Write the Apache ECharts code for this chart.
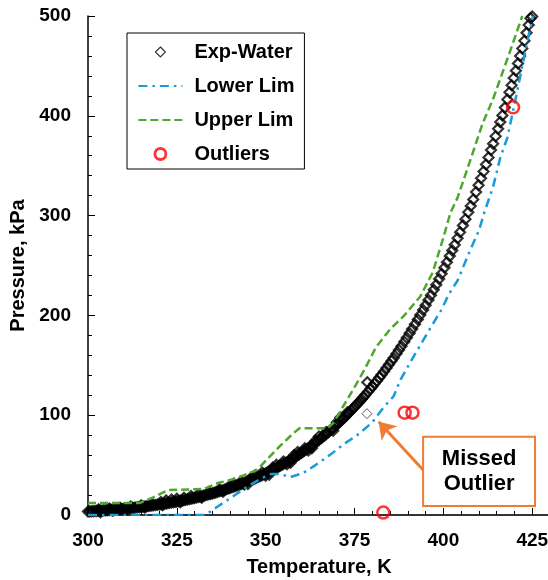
<!DOCTYPE html>
<html><head><meta charset="utf-8">
<script src="https://cdn.jsdelivr.net/npm/echarts@6/dist/echarts.min.js"></script>
<style>html,body{margin:0;padding:0;background:#fff}#c{width:548px;height:580px}</style>
</head><body><div id="c"></div>
<script>
// ---- Data (Temperature K, Pressure kPa) ----
const expWater = [
[299.6,3.46],[300,3.54],[300.5,3.64],[301,3.75],[301.5,3.86],[302,3.97],[302.5,4.09],[303,4.21],[303.5,4.33],[304,4.46],
[304.5,4.59],[305,4.72],[305.5,4.85],[306,4.99],[306.5,5.13],[307,5.28],[307.5,5.43],[308,5.58],[308.5,5.74],[309,5.90],
[309.5,6.06],[310,6.23],[310.5,6.40],[311,6.57],[311.5,6.75],[312,6.93],[312.5,7.12],[313,7.31],[313.5,7.51],[314,7.72],
[314.5,7.93],[315,8.14],[315.5,8.35],[316,8.57],[316.5,8.80],[317,9.03],[317.5,9.27],[318,9.51],[318.5,9.76],[319,10.02],
[319.5,10.28],[320,10.55],[320.5,10.82],[321,11.09],[321.5,11.37],[322,11.65],[322.5,11.95],[323,12.25],[323.5,12.56],[324,12.87],
[324.5,13.20],[325,13.53],[325.5,13.86],[326,14.20],[326.5,14.55],[327,14.90],[327.5,15.26],[328,15.63],[328.5,16.01],[329,16.40],
[329.5,16.80],[330,17.21],[330.5,17.62],[331,18.03],[331.5,18.46],[332,18.89],[332.5,19.34],[333,19.79],[333.5,20.26],[334,20.73],
[334.5,21.22],[335,21.72],[335.5,22.22],[336,22.72],[336.5,23.24],[337,23.76],[337.5,24.30],[338,24.85],[338.5,25.42],[339,25.99],
[339.5,26.59],[340,27.19],[340.5,27.79],[341,28.39],[341.5,29.02],[342,29.65],[342.5,30.31],[343,30.97],[343.5,31.65],[344,32.34],
[344.5,33.06],[345,33.78],[345.5,34.50],[346,35.23],[346.5,35.98],[347,36.74],[347.5,37.52],[348,38.31],[348.5,39.13],[349,39.96],
[349.5,40.82],[350,41.68],[350.5,42.54],[351,43.41],[351.5,44.31],[352,45.21],[352.5,46.15],[353,47.09],[353.5,48.06],[354,49.04],
[354.5,50.06],[355,51.08],[355.5,52.10],[356,53.13],[356.5,54.19],[357,55.26],[357.5,56.37],[358,57.48],[358.5,58.63],[359,59.79],
[359.5,60.99],[360,62.19],[360.5,63.40],[361,64.61],[361.5,65.86],[362,67.12],[362.5,68.42],[363,69.73],[363.5,71.09],[364,72.45],
[364.5,73.85],[365,75.26],[365.5,76.68],[366,78.10],[366.5,79.57],[367,81.04],[367.5,82.57],[368,84.10],[368.5,85.68],[369,87.27],
[369.5,88.90],[370,90.54],[370.5,92.19],[371,93.85],[371.5,95.56],[372,97.28],[372.5,99.05],[373,100.83],[373.5,102.67],[374,104.51],
[374.5,106.4],[375,108.3],
[303,5.6],[306,6.4],[309,7.3],[312,8.4],[315,9.6],[318,11.2],[320.5,13.0],[322,14.6],[323.5,15.5],[325,16.2],
[327,17.3],[329,19.0],[331,20.5],[334,23.0],[337,25.8],[340,29.5],[343,33.2],[346,37.5],[349,42.5],[352,47.5],
[355,53.5],[358,60.0],[361,66.8],[364,74.5],[367,83.2],[370,92.8],[373,103.0],[303.5,2.9],[307,4.4],[311,5.8],
[316,7.6],[321,9.8],[326,12.8],[332,17.3],[338,23.3],[344,30.5],[350,39.5],[356,50.8],[362,64.6],
[341,31.2],[347,39.8],[353,50.2],[359,63.0],[365,78.6],[371,97.6],[345,31.0],[351,40.5],[357,52.4],[363,67.0],[369,84.5],
[375.5,110.2],[376,112.1],[376.5,114.1],[377,116.1],[377.5,118.1],[378,120.2],[378.8,123.5],[379.5,126.6],[380,128.8],[380.6,131.5],
[381.3,134.5],[382,137.7],[382.6,140.5],[383.3,143.9],[384,147.3],[384.7,150.8],[385.4,154.3],[386,157.4],[386.8,161.5],[387.5,165.3],
[388.2,169.1],[389,173.6],[389.7,177.6],[390.5,182.2],[391.2,186.3],[392,191.1],[392.8,196.0],[393.5,200.4],[394.3,205.5],[395,210.1],
[395.8,215.5],[396.5,220.2],[397.3,225.7],[398,230.7],[398.8,236.5],[399.5,241.8],[400.3,247.8],[401,253.2],[401.8,259.4],[402.5,265.1],
[403.2,270.7],[404,277.4],[404.7,283.3],[405.5,290.2],[406.2,296.3],[407,303.3],[407.7,309.6],[408.4,316.2],[409.2,323.7],[409.9,330.5],
[410.6,337.4],[411.3,344.2],[412,351.2],[412.7,358.3],[413.4,365.7],[414,372.0],[414.7,379.5],[415.4,387.1],[416,393.7],[416.6,400.4],
[417.3,408.2],[418,416.3],[418.6,423.5],[419.2,430.6],[419.8,437.9],[420.4,445.2],[421,452.5],[421.6,460.0],[422.2,467.5],[422.8,475.2],
[423.4,483.1],[424,491.0],[424.5,497.7],[425,499.5],
[378.6,133.0]
];
const missedOutlier = [378.5, 101.5];
const lowerLim = [
[300,0],[333,0],[336.3,8],[340.5,18],[344.2,27],[348.4,36],[351.5,41],[354,41],[357,38],[360.5,42],
[364,50],[368,60],[372.4,72],[376.5,82],[380,93],[383,107],[386,119],[388,136],[391,155],[394.8,178],
[397.3,193],[399.5,206],[401.5,221],[404,235],[407.5,265],[410,285],[411.5,303],[414,329],[416,358],[418,378],
[420.5,420],[423.6,474],[425.2,500]
];
const upperLim = [
[300,12],[314.5,12],[318,17],[322.5,25],[332.5,26],[336.5,32],[340,35],[344,40],[347.5,45],[351,58],
[354,69],[357.5,81],[359.5,87],[367.5,87],[369,92],[372,110],[375,128],[378,147],[381,168],[385,186],
[389,200],[393.5,219],[397,243],[400,278],[402,303],[404,318],[408,360],[411,392],[414,417],[419,467],
[422.2,500]
];
const outliers = [[383.1,2.5],[389.1,102.5],[391.3,102.5],[419.6,408.5]];
const seriesNames = ['Exp-Water','Lower Lim','Upper Lim','Outliers'];
const xRange = {min:300, max:430, interval:25};
const yRange = {min:0, max:500, interval:100};
const axisTitles = {x:'Temperature, K', y:'Pressure, kPa'};
const annotationText = 'Missed\nOutlier';
const arrowFrom = [394.3, 45];
const arrowTo = [381.8, 93.5];
const annotationBox = {left:394.3, right:425.8, top:78.3, bottom:9};

const FONT = '"Liberation Sans", Arial, sans-serif';
const chart = echarts.init(document.getElementById('c'), null, {renderer:'canvas'});
const axisCommon = {
  axisLine:{show:true, onZero:false, lineStyle:{color:'#000', width:1.5}},
  axisTick:{show:true, inside:true, length:7, lineStyle:{color:'#000', width:1}},
  minorTick:{show:true, splitNumber:5, length:4, lineStyle:{color:'#000', width:1}},
  splitLine:{show:false}, minorSplitLine:{show:false}
};
const expData = expWater.map(v => v).concat([{value:missedOutlier, itemStyle:{borderWidth:1, borderColor:'#333'}}]);
// legend icons: thin invisible end segments keep the icon box 44 wide so the symbol is not stretched
const diamondIcon = 'path://M0,5L0.01,5M22,0L27,5L22,10L17,5ZM43.99,5L44,5';
const circleIcon = 'path://M0,6L0.01,6M16.5,6A5.5,5.5,0,1,1,27.5,6A5.5,5.5,0,1,1,16.5,6ZM43.99,6L44,6';
chart.setOption({
  animation:false,
  backgroundColor:'#fff',
  grid:{left:88, top:16, right:-2, bottom:65, containLabel:false, outerBoundsMode:'none'},
  legend:{
    data:[
      {name:seriesNames[0], icon:diamondIcon, itemStyle:{borderWidth:1.2, borderColor:'#000', color:'rgba(255,255,255,0)'}},
      {name:seriesNames[1], itemStyle:{opacity:0}},
      {name:seriesNames[2], itemStyle:{opacity:0}},
      {name:seriesNames[3], icon:circleIcon, itemStyle:{borderWidth:2.8, borderColor:'#ff0000', color:'rgba(255,255,255,0)'}}
    ],
    orient:'vertical', left:127, top:33, symbolKeepAspect:true,
    padding:[9,10,5,10], itemGap:14, itemWidth:44, itemHeight:11,
    borderColor:'#000', borderWidth:1, backgroundColor:'#fff',
    textStyle:{fontFamily:FONT, fontWeight:'bold', fontSize:20, color:'#000', padding:[0,0,0,7]}
  },
  xAxis:[Object.assign({
    type:'value', min:xRange.min, max:xRange.max, interval:xRange.interval,
    name:axisTitles.x, nameLocation:'middle', nameGap:42,
    nameTextStyle:{fontFamily:FONT, fontWeight:'bold', fontSize:20, color:'#000'},
    axisLabel:{fontFamily:FONT, fontWeight:'bold', fontSize:19, color:'#000', margin:16, showMaxLabel:false}
  }, axisCommon), {
    type:'value', position:'top', min:xRange.min, max:xRange.max, interval:xRange.interval,
    axisLine:{show:true, lineStyle:{color:'#333', width:1.5}}, axisTick:{show:false}, axisLabel:{show:false}, splitLine:{show:false}
  }],
  yAxis:Object.assign({
    type:'value', min:yRange.min, max:yRange.max, interval:yRange.interval,
    name:axisTitles.y, nameLocation:'middle', nameGap:51,
    nameTextStyle:{fontFamily:FONT, fontWeight:'bold', fontSize:20, color:'#000'},
    axisLabel:{fontFamily:FONT, fontWeight:'bold', fontSize:19, color:'#000', margin:17}
  }, axisCommon),
  series:[
    {name:seriesNames[0], type:'scatter', data:expData, symbol:'diamond', symbolSize:10,
     itemStyle:{color:'rgba(255,255,255,0)', borderColor:'#000', borderWidth:2.2}, z:2},
    {name:seriesNames[1], type:'line', data:lowerLim, symbol:'none', showSymbol:false,
     lineStyle:{color:'#1a9ad9', width:2.5, type:[9,5,2.5,5]}, itemStyle:{color:'#1a9ad9'}, z:3},
    {name:seriesNames[2], type:'line', data:upperLim, symbol:'none', showSymbol:false,
     lineStyle:{color:'#4ea72e', width:2.5, type:[8,4]}, itemStyle:{color:'#4ea72e'}, z:4},
    {name:seriesNames[3], type:'scatter', data:outliers, symbol:'circle', symbolSize:12,
     itemStyle:{color:'rgba(255,255,255,0)', borderColor:'#ff0000', borderWidth:2.5}, z:5},
    {name:'annotation', type:'line', data:[], silent:true, z:6,
     markLine:{silent:true, symbol:['none','arrow'], symbolSize:16, label:{show:false},
       lineStyle:{color:'#ed7d31', width:3, type:'solid'},
       emphasis:{disabled:true},
       data:[[{coord:arrowFrom},{coord:arrowTo}]]}}
  ]
});
const p1 = chart.convertToPixel({gridIndex:0}, [annotationBox.left, annotationBox.top]);
const p2 = chart.convertToPixel({gridIndex:0}, [annotationBox.right, annotationBox.bottom]);
chart.setOption({graphic:[
  {type:'rect', z:100, shape:{x:p1[0], y:p1[1], width:p2[0]-p1[0], height:p2[1]-p1[1]},
   style:{fill:'#fff', stroke:'#ed7d31', lineWidth:2}},
  {type:'text', z:101, x:(p1[0]+p2[0])/2, y:(p1[1]+p2[1])/2,
   style:{text:annotationText, fontFamily:FONT, fontWeight:'bold', fontSize:22, fill:'#000',
          align:'center', verticalAlign:'middle', lineHeight:25}}
]});
</script></body></html>
